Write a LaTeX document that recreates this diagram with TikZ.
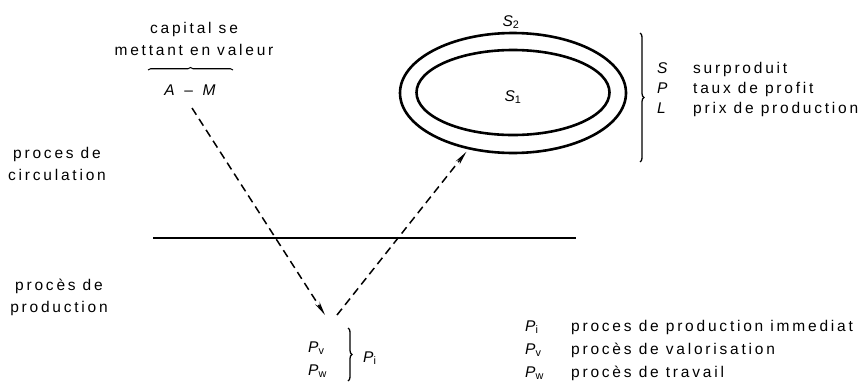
\documentclass[tikz,border=0pt]{standalone}
\usepackage{fontspec}
\setmainfont{Liberation Sans}[LetterSpace=18]
\usetikzlibrary{arrows.meta,decorations.pathreplacing,shapes.geometric}
\newcommand\V[1]{{\itshape #1}}
\begin{document}
\begin{tikzpicture}[x=1pt,y=-1pt,
  every node/.style={font=\fontsize{15.5}{22}\selectfont, inner sep=0pt},
  lbl/.style={align=center},
  leg/.style={anchor=base west},
  dasharrow/.style={line width=1.5pt, dash pattern=on 8pt off 5pt, -{Stealth[length=14pt,width=5pt]}},
  ring/.style={draw, ellipse, line width=2.6pt, inner sep=0pt},
  brc/.style={line width=1.3pt, decorate, decoration={brace, amplitude=4pt}},
  rule/.style={line width=1.8pt},
]
\useasboundingbox (0,0) rectangle (867,386);

% top-left label
\node[lbl] (cap) at (194,39) {capital se\\mettant en valeur};
\node (am) at (190,90) {\V{A}\ \,--\ \,\V{M}};
\coordinate (ob1) at (148,70);
\coordinate (ob2) at (233,70);
\draw[brc, line width=1.1pt, decoration={brace, amplitude=2.5pt}] (ob1) -- (ob2);

% left labels
\node[lbl] (circ) at (57,164) {proces de\\circulation};
\node[lbl] (prod) at (59,297) {procès de\\production};

% separating line
\coordinate (hl) at (153,238);
\coordinate (hr) at (576,238);
\draw[rule] (hl) -- (hr);

% ellipses
\node[ring, minimum width=226pt, minimum height=120pt] (outer) at (513,93) {};
\node[ring, minimum width=193pt, minimum height=85pt] (inner) at (513,92.5) {};
\node (s2) at (511,22) {\V{S}\textsubscript{2}};
\node (s1) at (513,97) {\V{S}\textsubscript{1}};

% right legend
\coordinate (rb1) at (640,33);
\coordinate (rb2) at (640,162);
\draw[brc] (rb1) -- (rb2);
\node[leg] (ls) at (657,73.5) {\V{S}};
\node[leg] (lp) at (657,93.5) {\V{P}};
\node[leg] (ll) at (657,113.5) {\V{L}};
\node[leg] (lst) at (693,73.5) {surproduit};
\node[leg] (lpt) at (693,93.5) {taux de profit};
\node[leg] (llt) at (693,113.5) {prix de production};

% production node
\node[leg] (pv) at (308,352) {\V{P}\textsubscript{v}};
\node[leg] (pw) at (308,375) {\V{P}\textsubscript{w}};
\coordinate (pb1) at (348,328);
\coordinate (pb2) at (348,381);
\draw[brc] (pb1) -- (pb2);
\node[leg] (pi) at (363,362) {\V{P}\textsubscript{i}};

% arrows
\coordinate (d0) at (192,108);
\coordinate (d1) at (325,315);
\coordinate (u0) at (337,315);
\draw[dasharrow] (d0) -- (d1);
\draw[dasharrow, shorten >=3pt] (u0) -- (outer);

% bottom legend
\node[leg] (bpi) at (525,331) {\V{P}\textsubscript{i}};
\node[leg] (bpv) at (525,354) {\V{P}\textsubscript{v}};
\node[leg] (bpw) at (525,377) {\V{P}\textsubscript{w}};
\node[leg] (bti) at (571,331) {proces de production immediat};
\node[leg] (btv) at (571,354) {procès de valorisation};
\node[leg] (btw) at (571,377) {procès de travail};
\end{tikzpicture}
\end{document}
